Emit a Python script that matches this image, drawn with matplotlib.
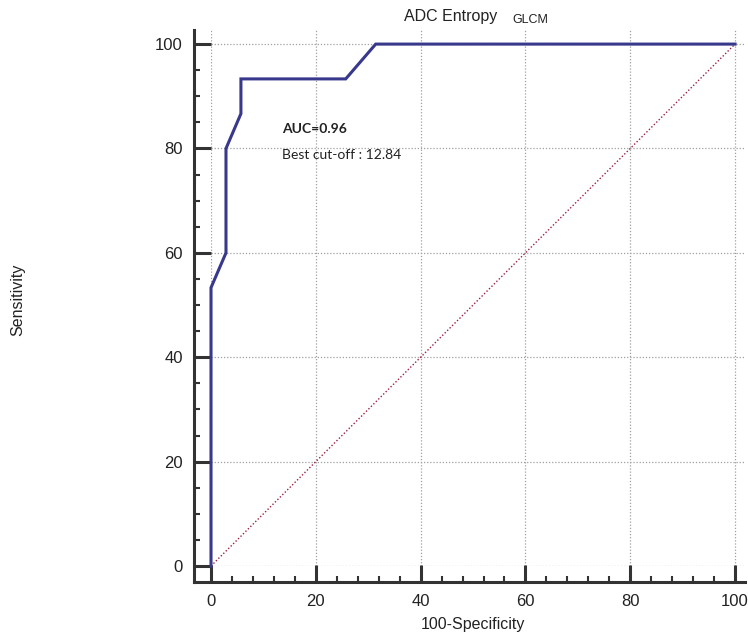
import matplotlib.pyplot as plt
from matplotlib.ticker import MultipleLocator

plt.rcParams['font.family'] = ['Liberation Sans', 'DejaVu Sans']

# ROC curve points (100-specificity, sensitivity)
fpr = [0, 0, 2.86, 2.86, 5.71, 5.71, 25.71, 31.43, 100]
tpr = [0, 53.33, 60, 80, 86.67, 93.33, 93.33, 100, 100]
ref_x = [0, 100]
ref_y = [0, 100]
ticks = [0, 20, 40, 60, 80, 100]

W, H = 748, 641
fig = plt.figure(figsize=(W / 100, H / 100), dpi=100)
ax = fig.add_axes([211 / W, 75 / H, (745 - 211) / W, (566 - 30) / H])

ax.plot(ref_x, ref_y, color='#9b2040', lw=1.0, ls=(0, (1, 1.5)), zorder=2)
ax.plot(fpr, tpr, color='#38388c', lw=2.2, zorder=3, solid_joinstyle='miter',
        clip_on=False)

ax.set_xlim(0, 101.9)
ax.set_ylim(0, 102.7)
ax.set_xticks(ticks)
ax.set_yticks(ticks)
ax.xaxis.set_minor_locator(MultipleLocator(4))
ax.yaxis.set_minor_locator(MultipleLocator(5))
ax.grid(True, which='major', color='#a0a0a0', ls=(0, (1, 1.5)), lw=0.9)

for s in ['top', 'right']:
    ax.spines[s].set_visible(False)
ax.spines['left'].set_position(('outward', 12.2))
ax.spines['bottom'].set_position(('outward', 11.5))
ax.spines['left'].set_bounds(-3.1, 102.7)
ax.spines['bottom'].set_bounds(-3.3, 101.9)
for s in ['left', 'bottom']:
    ax.spines[s].set_linewidth(2.2)
    ax.spines[s].set_color('#333333')

ax.tick_params(which='major', direction='in', length=12, width=2.2,
               color='#333333', labelsize=12, labelcolor='#222222', pad=8)
ax.tick_params(which='minor', direction='in', length=4.5, width=1.5,
               color='#333333')
ax.tick_params(axis='x', pad=9)

ax.text(13.5, 82.9, 'AUC=0.96', fontsize=10, fontweight='bold',
        family=['Lato', 'DejaVu Sans'], color='#222222')
ax.text(13.5, 77.9, 'Best cut-off : 12.84', fontsize=10,
        family=['Lato', 'DejaVu Sans'], color='#222222')

fig.text(451 / W, 1 - 16 / H, 'ADC Entropy', fontsize=11.5, ha='center',
         va='center', color='#222222')
fig.text(530 / W, 1 - 20 / H, 'GLCM', fontsize=9, ha='center',
         va='center', color='#222222')
fig.text(473 / W, 1 - 625 / H, '100-Specificity', fontsize=11.5,
         ha='center', va='center', color='#222222')
fig.text(18 / W, 1 - 300 / H, 'Sensitivity', fontsize=11.5, rotation=90,
         ha='center', va='center', color='#222222')

fig.savefig('out.png', dpi=100)
